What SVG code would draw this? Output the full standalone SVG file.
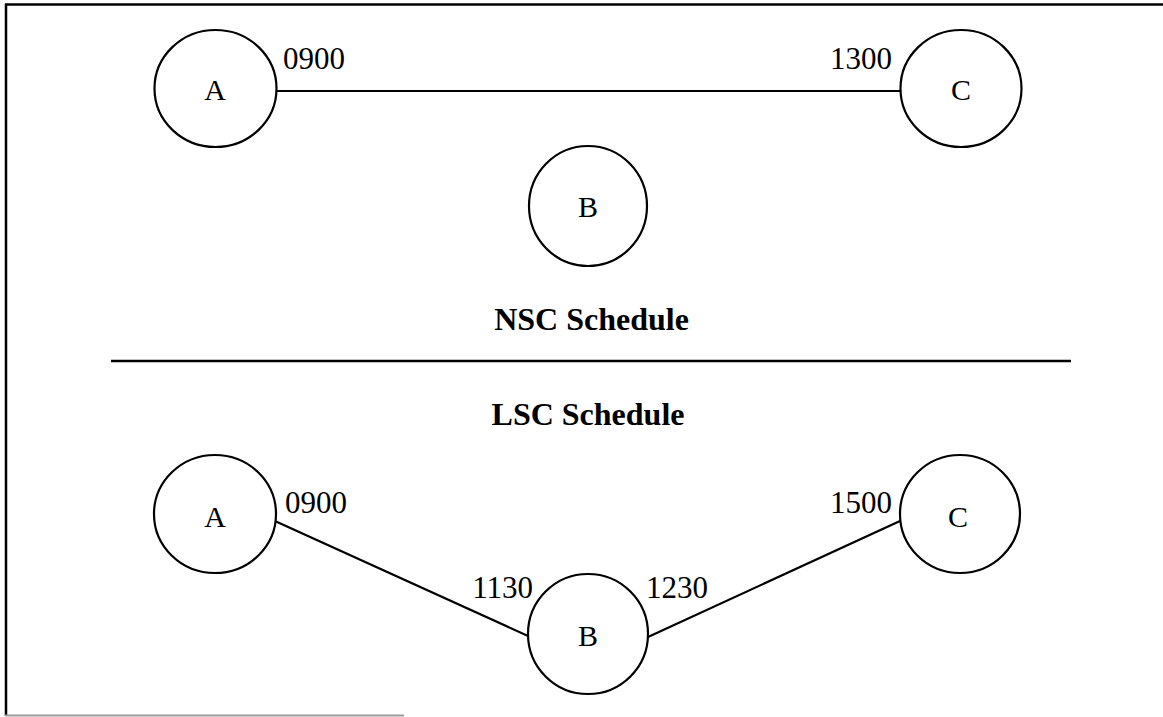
<svg xmlns="http://www.w3.org/2000/svg" width="1163" height="717" viewBox="0 0 1163 717">
  <style>
    .node { fill: #fff; stroke: #000; stroke-width: 2.2; }
    .edge { stroke: #000; stroke-width: 2.2; fill: none; }
    .frame { stroke: #000; stroke-width: 2.5; fill: none; }
    .name { font-family: "Liberation Serif", "Times New Roman", serif; font-size: 30px; text-anchor: middle; fill: #000; }
    .time { font-family: "Liberation Serif", "Times New Roman", serif; font-size: 31px; fill: #000; }
    .title { font-family: "Liberation Serif", "Times New Roman", serif; font-size: 32px; font-weight: bold; text-anchor: middle; fill: #000; }
  </style>
  <rect width="1163" height="717" fill="#fff"/>

  <!-- frame -->
  <g id="frame">
    <line class="frame" x1="5" y1="4.5" x2="1163" y2="4.5"/>
    <line class="frame" x1="6" y1="4" x2="6" y2="716"/>
    <line x1="5" y1="715.5" x2="404" y2="715.5" stroke="#9a9a9a" stroke-width="2"/>
    <line class="frame" x1="111" y1="361" x2="1071" y2="361"/>
  </g>

  <!-- connectors -->
  <g id="connectors">
    <line class="edge" x1="277" y1="91" x2="901" y2="91"/>
    <line class="edge" x1="276" y1="521.5" x2="528" y2="636"/>
    <line class="edge" x1="648" y1="637" x2="900" y2="521"/>
  </g>

  <!-- NSC schedule -->
  <g id="nsc-A">
    <ellipse class="node" cx="215.5" cy="88.5" rx="61" ry="58.5"/>
    <text class="name" x="215" y="99.5">A</text>
  </g>
  <g id="nsc-B">
    <ellipse class="node" cx="588" cy="206" rx="59" ry="60"/>
    <text class="name" x="588" y="217">B</text>
  </g>
  <g id="nsc-C">
    <ellipse class="node" cx="961" cy="88.5" rx="60.5" ry="58.5"/>
    <text class="name" x="961" y="100">C</text>
  </g>
  <g id="nsc-times">
    <text class="time" x="283" y="69">0900</text>
    <text class="time" x="892" y="69" text-anchor="end">1300</text>
  </g>
  <text class="title" x="591.5" y="330">NSC Schedule</text>

  <!-- LSC schedule -->
  <text class="title" x="588" y="425">LSC Schedule</text>
  <g id="lsc-A">
    <ellipse class="node" cx="215" cy="514" rx="61" ry="59"/>
    <text class="name" x="215" y="527">A</text>
  </g>
  <g id="lsc-B">
    <ellipse class="node" cx="588" cy="634" rx="60" ry="60"/>
    <text class="name" x="588" y="646">B</text>
  </g>
  <g id="lsc-C">
    <ellipse class="node" cx="960" cy="514" rx="60" ry="59"/>
    <text class="name" x="958" y="527">C</text>
  </g>
  <g id="lsc-times">
    <text class="time" x="285" y="513">0900</text>
    <text class="time" x="533" y="598" text-anchor="end">1130</text>
    <text class="time" x="646" y="598">1230</text>
    <text class="time" x="892" y="513" text-anchor="end">1500</text>
  </g>
</svg>
